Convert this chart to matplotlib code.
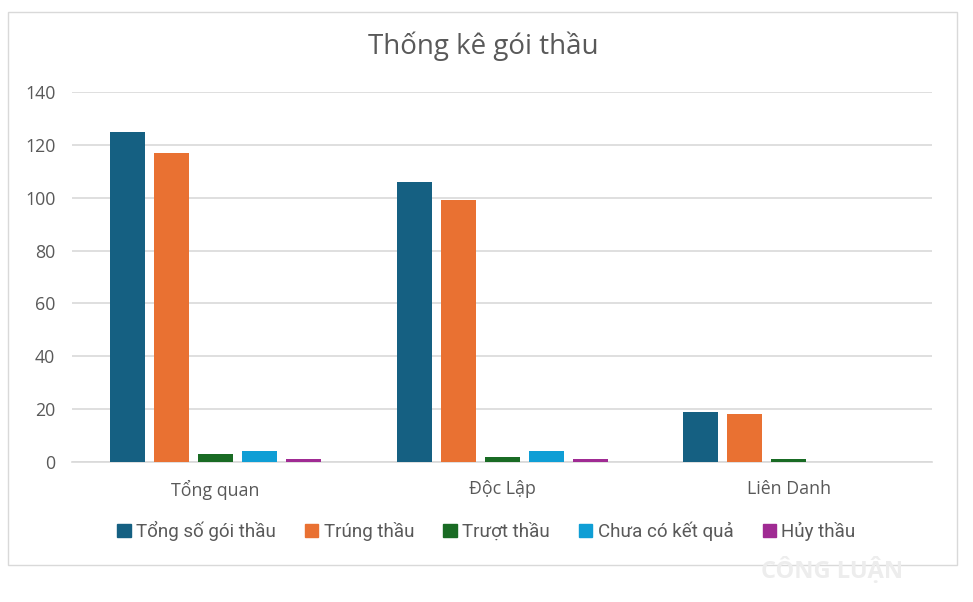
import matplotlib
matplotlib.use('Agg')
import matplotlib.pyplot as plt
import matplotlib.patches as mpatches
import numpy as np

plt.rcParams['font.family'] = ['Open Sans', 'DejaVu Sans']

# Data
categories = ['Tổng quan', 'Độc Lập', 'Liên Danh']
series_names = ['Tổng số gói thầu', 'Trúng thầu', 'Trượt thầu', 'Chưa có kết quả', 'Hủy thầu']
tong_so = [125, 106, 19]
trung_thau = [117, 99, 18]
truot_thau = [3, 2, 1]
chua_co = [4, 4, 0]
huy_thau = [1, 1, 0]
yticks = [0, 20, 40, 60, 80, 100, 120, 140]

values = [tong_so, trung_thau, truot_thau, chua_co, huy_thau]
colors = ['#156082', '#E97132', '#196B24', '#0F9ED5', '#A02B93']

fig = plt.figure(figsize=(9.73, 6.02), dpi=100)
ax = fig.add_axes([0.074, 0.2326, 0.884, 0.6146])

x = np.arange(len(categories))
step = 0.1535
width = 0.122
for i, (name, vals) in enumerate(zip(series_names, values)):
    ax.bar(x + (i - 2) * step, vals, width=width, color=colors[i], label=name, zorder=3)

ax.set_xlim(-0.5, len(categories) - 0.5)
ax.set_ylim(0, 140)
ax.set_yticks(yticks)
ax.set_xticks(x)
ax.set_xticklabels(categories)
ax.tick_params(axis='both', length=0, labelsize=12.8, colors='#595959')
ax.tick_params(axis='x', pad=13)
ax.tick_params(axis='y', pad=12)
ax.grid(axis='y', color='#D9D9D9', linewidth=1.2, zorder=0)
for s in ['top', 'right', 'left']:
    ax.spines[s].set_visible(False)
ax.spines['bottom'].set_color('#D9D9D9')
ax.spines['bottom'].set_linewidth(1.2)

fig.text(0.497, 0.923, 'Thống kê gói thầu', ha='center', va='center',
         fontsize=20, color='#595959')

handles = [mpatches.Patch(color=c, label=n) for c, n in zip(colors, series_names)]
fig.legend(handles=handles, loc='center', bbox_to_anchor=(0.5, 0.118), ncol=5,
           frameon=False, handlelength=0.7, handleheight=0.7,
           handletextpad=0.3, columnspacing=1.55, labelcolor='#595959',
           prop={'family': ['Roboto', 'DejaVu Sans'], 'size': 13.5})

# outer chart border
border = mpatches.Rectangle((8 / 973, 37 / 602), 949 / 973, 553 / 602,
                            transform=fig.transFigure, fill=False,
                            edgecolor='#D9D9D9', linewidth=1)
fig.patches.append(border)

# faint watermark
fig.text(0.855, 0.052, 'CÔNG LUẬN', ha='center', va='center', fontsize=17,
         fontweight='bold', color='#EDEDED')

fig.savefig('out.png', dpi=100)
